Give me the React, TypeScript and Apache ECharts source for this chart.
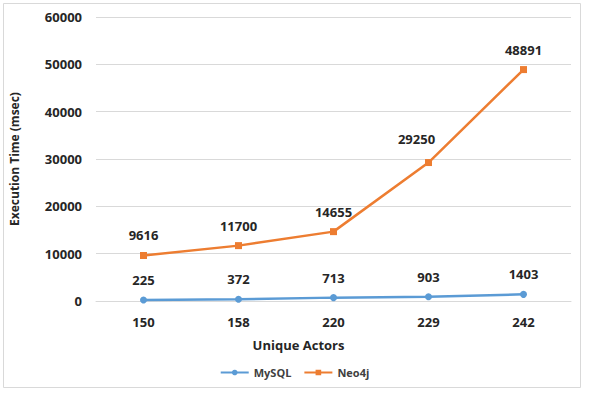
import React, { useEffect, useRef } from "react";
import * as echarts from "echarts";

const categories = ["150", "158", "220", "229", "242"];
const mysqlValues = [225, 372, 713, 903, 1403];
const neo4jValues = [9616, 11700, 14655, 29250, 48891];

export default function App() {
  const ref = useRef<HTMLDivElement>(null);
  useEffect(() => {
    document.body.style.margin = "0";
    const chart = echarts.init(ref.current!, null, { renderer: "svg" });
    const font = "'Open Sans', sans-serif";
    const labelStyle = {
      show: true,
      position: "top" as const,
      distance: 10,
      fontFamily: font,
      fontWeight: "bold" as const,
      fontSize: 13,
      color: "#262626",
    };
    chart.setOption({
      animation: false,
      backgroundColor: "#fff",
      graphic: [
        {
          type: "rect",
          shape: { x: 3.5, y: 3.5, width: 577, height: 384 },
          style: { fill: "none", stroke: "#d9d9d9", lineWidth: 1 },
        },
      ],
      grid: { left: 93, right: 18, top: 17, bottom: 92 },
      legend: {
        bottom: 10,
        left: "center",
        itemWidth: 28,
        itemHeight: 7,
        itemGap: 12,
        textStyle: { fontFamily: font, fontWeight: "bold", fontSize: 11, color: "#404040" },
        data: ["MySQL", "Neo4j"],
      },
      xAxis: {
        type: "category",
        data: categories,
        boundaryGap: true,
        axisLine: { show: true, lineStyle: { color: "#d9d9d9" } },
        axisTick: { show: false },
        axisLabel: { fontFamily: font, fontWeight: "bold", fontSize: 13, color: "#262626", margin: 14 },
        name: "Unique Actors",
        nameLocation: "middle",
        nameGap: 37,
        nameTextStyle: { fontFamily: font, fontWeight: "bold", fontSize: 13, color: "#262626", padding: [0, 70, 0, 0] },
      },
      yAxis: {
        type: "value",
        min: 0,
        max: 60000,
        interval: 10000,
        axisLine: { show: false },
        axisTick: { show: false },
        splitLine: { lineStyle: { color: "#d9d9d9" } },
        axisLabel: {
          fontFamily: font,
          fontWeight: "bold",
          fontSize: 13,
          color: "#262626",
          margin: 14,
          formatter: (v: number) => String(v),
        },
        name: "Execution Time (msec)",
        nameLocation: "middle",
        nameGap: 76,
        nameTextStyle: { fontFamily: font, fontWeight: "bold", fontSize: 12, color: "#262626" },
      },
      series: [
        {
          name: "MySQL",
          type: "line",
          data: mysqlValues,
          symbol: "circle",
          symbolSize: 7,
          lineStyle: { color: "#5B9BD5", width: 2.5 },
          itemStyle: { color: "#5B9BD5" },
          label: labelStyle,
        },
        {
          name: "Neo4j",
          type: "line",
          data: neo4jValues.map((v, i) =>
            i === 3 ? { value: v, label: { offset: [-12, -4] } } : v
          ),
          symbol: "rect",
          symbolSize: 7,
          lineStyle: { color: "#ED7D31", width: 2.5 },
          itemStyle: { color: "#ED7D31" },
          label: labelStyle,
        },
      ],
    });
    return () => chart.dispose();
  }, []);
  return <div ref={ref} style={{ width: 589, height: 393 }} />;
}
